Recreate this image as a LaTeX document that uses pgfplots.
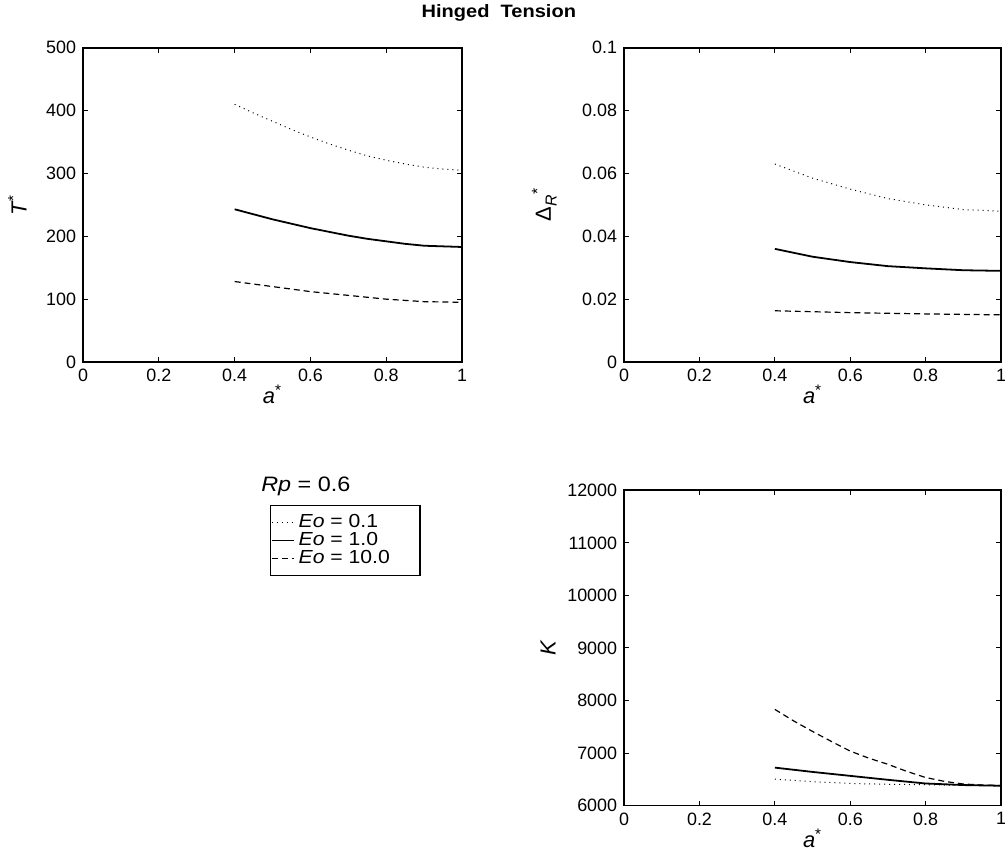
\documentclass[border=0pt]{standalone}
\usepackage{fontspec}
\setmainfont{Liberation Sans}
\newfontfamily\widefont[FakeStretch=1.12]{Liberation Sans}
\usepackage{pgfplots}
\pgfplotsset{compat=1.18}
\begin{document}
\pgfplotsset{
  mat/.style={
    scale only axis,
    anchor=south west,
    xmin=0, xmax=1,
    xtick={0,0.2,0.4,0.6,0.8,1},
    xticklabels={0,0.2,0.4,0.6,0.8,1},
    axis line style={line width=0.9pt},
    tick style={line width=0.5pt, black},
    major tick length=2.5pt,
    tick align=inside,
    font=\fontsize{9}{10}\selectfont,
    /pgf/number format/assume math mode=true,
    xlabel={\textit{a}\textsuperscript{*}},
    xlabel style={yshift=5pt, font=\fontsize{11}{12}\selectfont},
    ylabel style={font=\fontsize{11}{12}\selectfont},
    scaled y ticks=false,
    yticklabel style={/pgf/number format/fixed},
    every axis plot/.append style={black, line width=0.6pt},
  },
  dotS/.style={black, line width=0.5pt, dotted},
  solS/.style={black, line width=0.9pt},
  dasS/.style={black, line width=0.6pt, densely dashed},
}
\begin{tikzpicture}
\path[use as bounding box] (0,0) rectangle (502.5pt,429.5pt);
\node[font=\fontsize{9}{11}\selectfont\bfseries\widefont] at (248pt,423pt) {Hinged\ \ Tension};
\node[font=\fontsize{10.5}{12}\selectfont\widefont] at (151pt,185pt) {\textit{Rp} = 0.6};

% top-left
\begin{axis}[mat,
  at={(39pt,247.5pt)}, width=190.5pt, height=158pt,
  ymin=0, ymax=500, ytick={0,100,200,300,400,500},
  ylabel={\textit{T}\textsuperscript{*}},
  ylabel style={yshift=3pt},
  legend style={at={(0.494,-0.455)}, anchor=north west, draw=black, line width=0.6pt,
    font=\fontsize{9.5}{11}\selectfont\widefont, inner xsep=0pt, inner ysep=4pt, row sep=0pt,
    nodes={inner ysep=0pt, text height=7pt, text depth=2pt},
    row 3/.style={nodes={text depth=5pt}}},
  legend cell align=left,
  legend image code/.code={\draw[#1] (0cm,0cm) -- (0.39cm,0cm);},
]
\addplot[dotS] coordinates {(0.4,410) (0.45,396) (0.5,383) (0.55,370) (0.6,358) (0.65,347) (0.7,337) (0.75,328) (0.8,321) (0.85,315) (0.9,310) (0.95,307) (1.0,305)};
\addlegendentry{\makebox[59pt][l]{\textit{Eo} = 0.1}}
\addplot[solS] coordinates {(0.4,243) (0.45,235) (0.5,227) (0.55,220) (0.6,213) (0.65,207) (0.7,201) (0.75,196) (0.8,192) (0.85,188) (0.9,185) (0.95,184) (1.0,183)};
\addlegendentry{\textit{Eo} = 1.0}
\addplot[dasS] coordinates {(0.4,128) (0.5,120) (0.6,112) (0.7,106) (0.8,100) (0.9,96) (1.0,95)};
\addlegendentry{\textit{Eo} = 10.0}
\end{axis}

% top-right
\begin{axis}[mat,
  at={(311pt,247.5pt)}, width=189.5pt, height=158pt,
  ymin=0, ymax=0.1, ytick={0,0.02,0.04,0.06,0.08,0.1},
  yticklabels={0,0.02,0.04,0.06,0.08,0.1},
  ylabel={Δ\raisebox{-0.5ex}{\fontsize{8}{9}\selectfont\textit{R}}\raisebox{0.7ex}{\fontsize{8}{9}\selectfont *}},
  ylabel style={yshift=6pt},
]
\addplot[dotS] coordinates {(0.4,0.063) (0.5,0.0585) (0.6,0.055) (0.7,0.052) (0.8,0.050) (0.9,0.0485) (1.0,0.048)};
\addplot[solS] coordinates {(0.4,0.036) (0.5,0.0335) (0.6,0.0318) (0.7,0.0305) (0.8,0.0298) (0.9,0.0292) (1.0,0.029)};
\addplot[dasS] coordinates {(0.4,0.0163) (0.6,0.0157) (0.8,0.0153) (1.0,0.015)};
\end{axis}

% bottom-right
\begin{axis}[mat,
  at={(311pt,24.5pt)}, width=189.5pt, height=158.5pt,
  ymin=6000, ymax=12000, ytick={6000,7000,8000,9000,10000,11000,12000},
  yticklabels={6000,7000,8000,9000,10000,11000,12000},
  ylabel={\textit{K}},
  ylabel style={yshift=-1pt},
]
\addplot[dotS] coordinates {(0.4,6503) (0.5,6455) (0.6,6420) (0.7,6405) (0.8,6396) (0.9,6385) (1.0,6377)};
\addplot[solS] coordinates {(0.4,6722) (0.5,6640) (0.6,6565) (0.7,6490) (0.8,6420) (0.9,6390) (1.0,6377)};
\addplot[dasS] coordinates {(0.4,7830) (0.45,7610) (0.5,7410) (0.55,7220) (0.6,7036) (0.65,6900) (0.7,6785) (0.75,6650) (0.8,6534) (0.85,6460) (0.9,6410) (0.95,6390) (1.0,6380)};
\end{axis}
\end{tikzpicture}
\end{document}
